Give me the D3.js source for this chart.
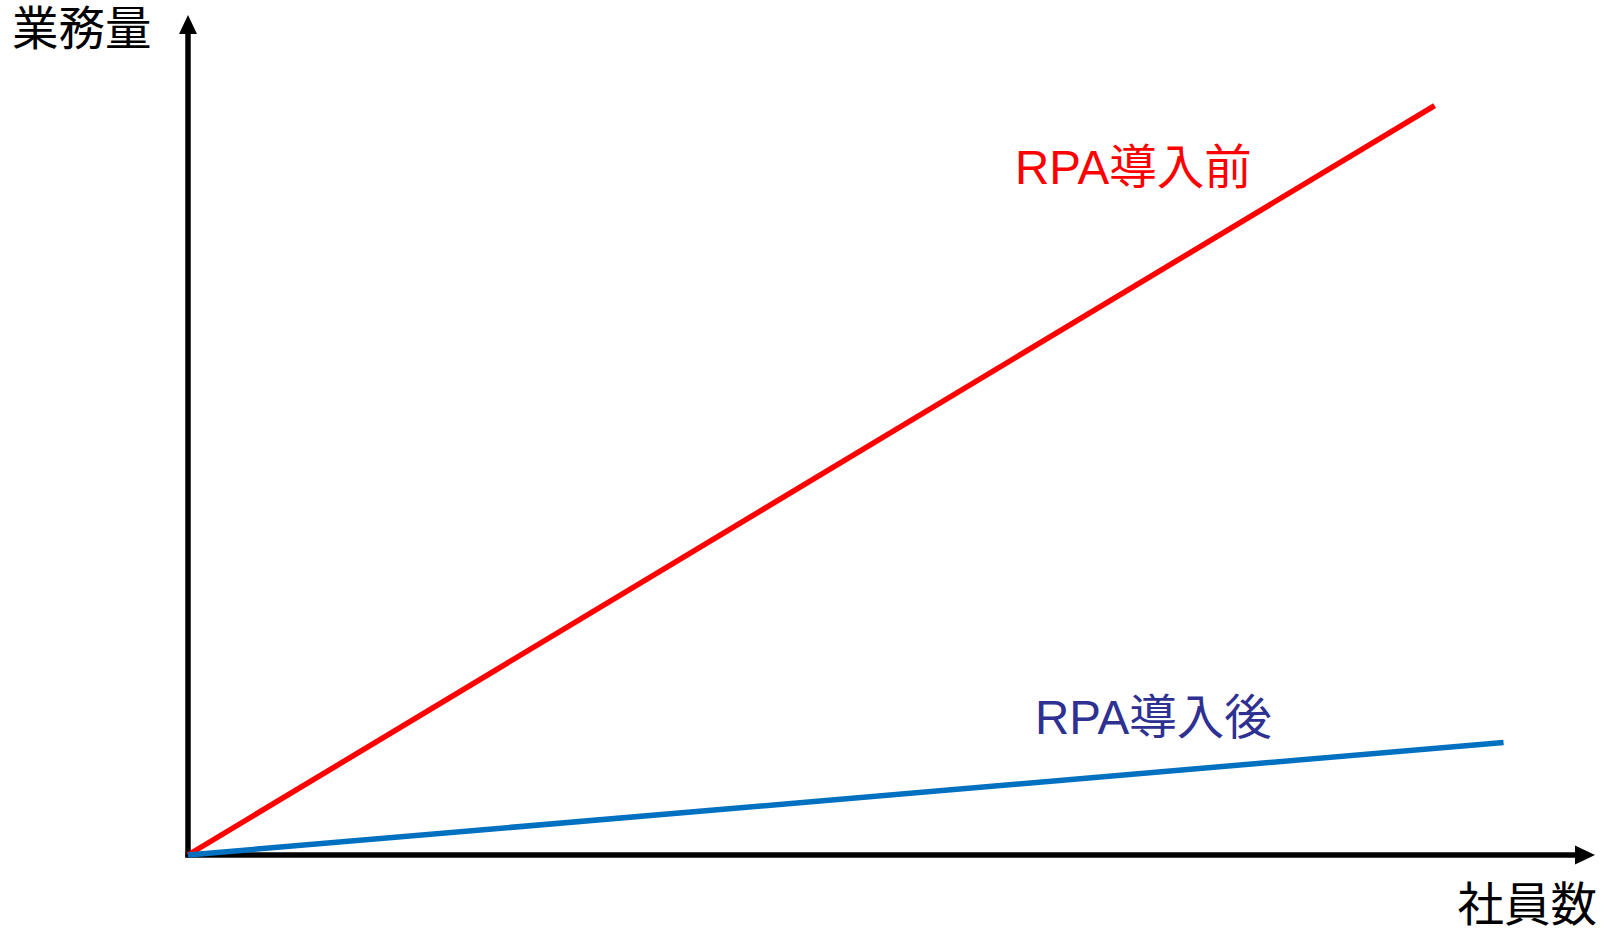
<!DOCTYPE html>
<html><head><meta charset="utf-8">
<script src="https://cdn.jsdelivr.net/npm/d3@7"></script>
<style>html,body{margin:0;padding:0;background:#fff;overflow:hidden}</style>
</head><body>
<svg id="chart" width="1604" height="931"></svg>
<script>
const seriesNames = ["RPA導入前", "RPA導入後"];
const beforeX = [0, 88.6];
const beforeY = [0, 89.2];
const afterX = [0, 93.5];
const afterY = [0, 13.4];
const axisLabels = { y: "業務量", x: "社員数" };
const seriesColors = ["#FF0000", "#0070C0"];
const labelColors = ["#FF0000", "#2E3192"];

const svg = d3.select("#chart");
const font = "'Liberation Sans', Arial, 'Noto Sans CJK JP', sans-serif";
const x = d3.scaleLinear().domain([0, 100]).range([188, 1595]);
const y = d3.scaleLinear().domain([0, 100]).range([855, 15]);

const series = [
  beforeX.map((v, i) => [v, beforeY[i]]),
  afterX.map((v, i) => [v, afterY[i]])
];
const line = d3.line().x(d => x(d[0])).y(d => y(d[1]));

// axes with arrows
svg.append("line").attr("x1", x(0)).attr("y1", y(0) + 2.5).attr("x2", x(0)).attr("y2", y(100) + 16)
  .attr("stroke", "#000").attr("stroke-width", 5.5);
svg.append("line").attr("x1", x(0) - 2.5).attr("y1", y(0)).attr("x2", x(100) - 18).attr("y2", y(0))
  .attr("stroke", "#000").attr("stroke-width", 5.5);
svg.append("path").attr("d", `M${x(0)},${y(100)} L${x(0) - 9},${y(100) + 19} L${x(0) + 9},${y(100) + 19} Z`).attr("fill", "#000");
svg.append("path").attr("d", `M${x(100)},${y(0)} L${x(100) - 20},${y(0) - 9.5} L${x(100) - 20},${y(0) + 9.5} Z`).attr("fill", "#000");

// series lines
series.forEach((s, i) => {
  svg.append("path").attr("d", line(s)).attr("fill", "none")
    .attr("stroke", seriesColors[i]).attr("stroke-width", 5.5).attr("stroke-linecap", "butt");
});

// labels
svg.append("text").attr("x", 12).attr("y", 45).attr("font-family", font).attr("font-size", 46.5)
  .attr("fill", "#000").text(axisLabels.y);
svg.append("text").attr("x", 1597).attr("y", 921).attr("text-anchor", "end").attr("font-family", font)
  .attr("font-size", 46.5).attr("fill", "#000").text(axisLabels.x);

svg.append("text").attr("x", 1015).attr("y", 184).attr("font-family", font).attr("font-size", 47.5)
  .attr("fill", labelColors[0]).text(seriesNames[0]);
svg.append("text").attr("x", 1035).attr("y", 734).attr("font-family", font).attr("font-size", 47.5)
  .attr("fill", labelColors[1]).text(seriesNames[1]);
</script>
</body></html>
